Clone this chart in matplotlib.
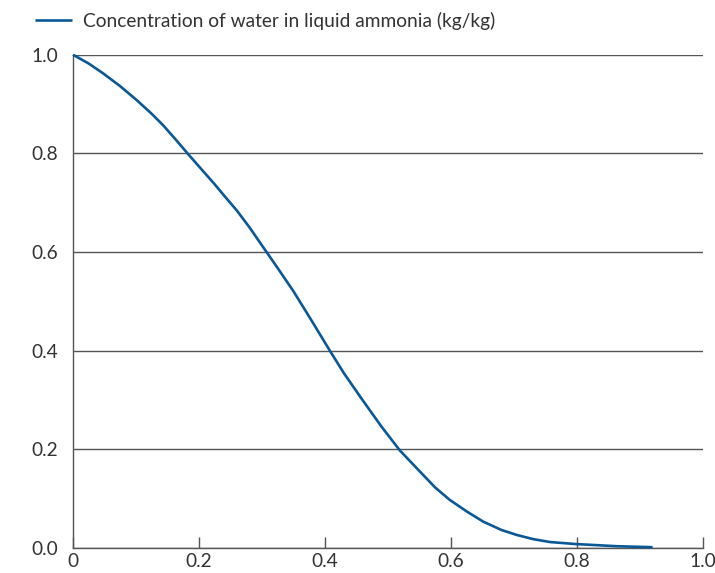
import matplotlib
matplotlib.use("Agg")
import matplotlib.pyplot as plt

x_frac = [0.0, 0.025, 0.048, 0.075, 0.101, 0.125, 0.143, 0.165, 0.183, 0.205,
          0.223, 0.24, 0.26, 0.28, 0.30, 0.325, 0.35, 0.38, 0.408, 0.43,
          0.456, 0.49, 0.519, 0.551, 0.575, 0.598, 0.625, 0.651, 0.68, 0.704,
          0.73, 0.757, 0.797, 0.863, 0.92]
water_conc = [1.0, 0.982, 0.962, 0.936, 0.908, 0.880, 0.857, 0.825, 0.798, 0.766,
              0.740, 0.714, 0.684, 0.650, 0.613, 0.567, 0.520, 0.458, 0.399, 0.354,
              0.306, 0.245, 0.197, 0.154, 0.122, 0.097, 0.0735, 0.053, 0.036, 0.026,
              0.0175, 0.0115, 0.0075, 0.003, 0.001]
series_label = "Concentration of water in liquid ammonia (kg/kg)"
x_ticks = [0, 0.2, 0.4, 0.6, 0.8, 1.0]
x_tick_labels = ["0", "0.2", "0.4", "0.6", "0.8", "1.0"]
y_ticks = [0.0, 0.2, 0.4, 0.6, 0.8, 1.0]
y_tick_labels = ["0.0", "0.2", "0.4", "0.6", "0.8", "1.0"]

plt.rcParams['font.family'] = ['Lato', 'DejaVu Sans']
fig = plt.figure(figsize=(7.15, 5.73), dpi=100)
ax = fig.add_axes([73/715, 1-547.7/573, 630/715, (547.7-54.7)/573])

grid_col = "#555555"
text_col = "#333333"
fs = 13.8
line, = ax.plot(x_frac, water_conc, color="#0a5896", lw=1.9, solid_capstyle='butt',
                solid_joinstyle='round', label=series_label, zorder=3, clip_on=False)

ax.set_xlim(0, 1.0)
ax.set_ylim(0, 1.0)
for s in ["top", "right"]:
    ax.spines[s].set_visible(False)
for s in ["left", "bottom"]:
    ax.spines[s].set_color(grid_col)
    ax.spines[s].set_linewidth(1.0)

ax.set_yticks(y_ticks)
ax.set_yticklabels(y_tick_labels)
ax.set_xticks(x_ticks)
ax.set_xticklabels(x_tick_labels)
ax.tick_params(axis='y', length=0, pad=10.5, labelsize=fs, labelcolor=text_col)
ax.tick_params(axis='x', direction='in', length=8, width=1.0, color=grid_col,
               pad=4, labelsize=fs, labelcolor=text_col)
ax.yaxis.grid(True, color=grid_col, lw=1.0)
ax.set_axisbelow(True)

fig.legend(handles=[line], loc='center left', bbox_to_anchor=(35/715, 1-21/573),
           frameon=False, fontsize=fs, handlelength=1.94, handletextpad=0.56,
           borderpad=0, borderaxespad=0, labelcolor=text_col)

fig.savefig("out.png", dpi=100)
